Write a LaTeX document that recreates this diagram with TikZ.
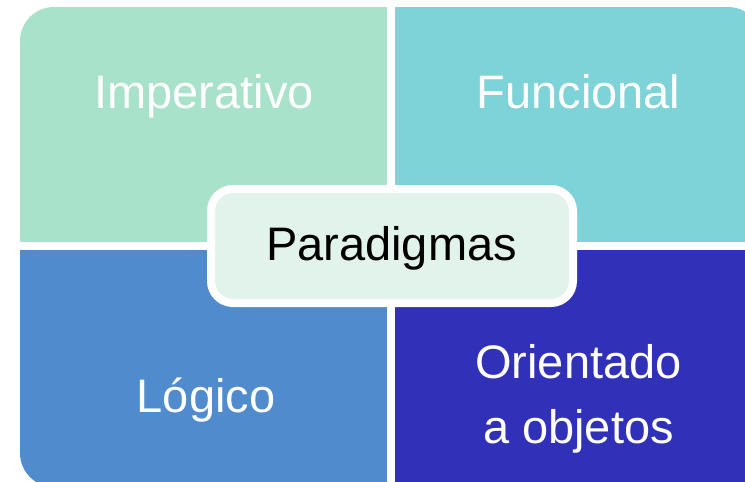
\documentclass[tikz,border=0pt]{standalone}
\usepackage{fontspec}
\setmainfont{Liberation Sans}
\definecolor{cTL}{HTML}{A9E2CA}
\definecolor{cTR}{HTML}{7DD3D8}
\definecolor{cBL}{HTML}{4F8BCD}
\definecolor{cBR}{HTML}{3030B8}
\definecolor{cMid}{HTML}{E1F3EA}
\begin{document}
\begin{tikzpicture}[x=1pt,y=-1pt,
  quadlabel/.style={anchor=base,text=white,inner sep=0pt,font=\fontsize{47}{56}\selectfont},
  midlabel/.style={anchor=base,text=black,inner sep=0pt,font=\fontsize{47}{56}\selectfont},
  centerbox/.style={draw=white,line width=8pt,fill=cMid,rounded corners=22pt,
    minimum width=362pt,minimum height=114pt,inner sep=0pt}]
\useasboundingbox (0,0) rectangle (745,482);
\begin{scope}
  \clip (0,0) rectangle (745,482);
  \clip[rounded corners=34pt] (20,7) rectangle (762,487);
  \fill[cTL] (20,7) rectangle (387,242);
  \fill[cTR] (395,7) rectangle (762,242);
  \fill[cBL] (20,250) rectangle (387,487);
  \fill[cBR] (395,250) rectangle (762,487);
\end{scope}
\node[quadlabel] (imp) at (204,108) {Imperativo};
\node[quadlabel] (fun) at (578.5,108) {Funcional};
\node[quadlabel] (log) at (206,412) {Lógico};
\node[quadlabel] (ori1) at (578.5,378) {Orientado};
\node[quadlabel] (ori2) at (578.5,443) {a objetos};
\node[centerbox] (centro) at (392,246) {};
\node[midlabel] (par) at (391.5,260) {Paradigmas};
\end{tikzpicture}
\end{document}
